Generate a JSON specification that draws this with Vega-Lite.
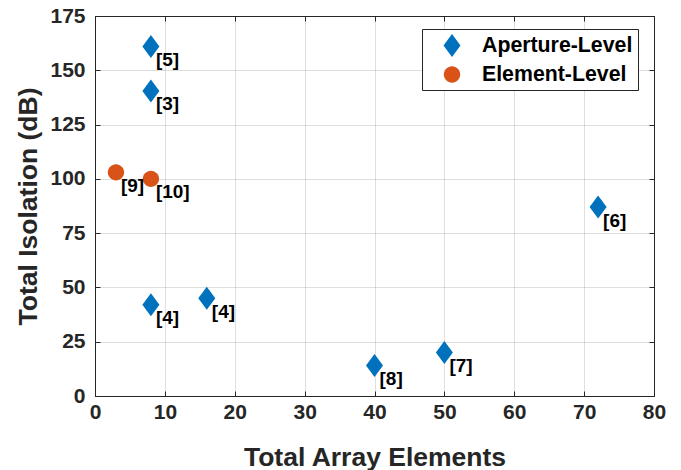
{
  "$schema": "https://vega.github.io/schema/vega-lite/v6.json",
  "width": 559,
  "height": 380,
  "autosize": "none",
  "padding": {"left": 95, "top": 16, "right": 27, "bottom": 74},
  "background": "white",
  "config": {
    "view": {"stroke": "#262626", "strokeWidth": 1},
    "font": "Liberation Sans",
    "axis": {
      "labelFont": "Liberation Sans",
      "labelFontWeight": "bold",
      "labelFontSize": 21,
      "labelColor": "#262626",
      "labelFlush": false,
      "labelOverlap": false,
      "titleFont": "Liberation Sans",
      "titleFontWeight": "bold",
      "titleFontSize": 26.5,
      "titleColor": "#262626",
      "gridColor": "#262626",
      "gridOpacity": 0.15,
      "domainColor": "#262626",
      "tickColor": "#262626",
      "tickSize": -5
    }
  },
  "data": {
    "values": [
      {"elements": 8, "isolation": 161, "type": "Aperture-Level", "ref": "[5]"},
      {"elements": 8, "isolation": 140.5, "type": "Aperture-Level", "ref": "[3]"},
      {"elements": 8, "isolation": 42, "type": "Aperture-Level", "ref": "[4]"},
      {"elements": 16, "isolation": 45, "type": "Aperture-Level", "ref": "[4]"},
      {"elements": 40, "isolation": 14, "type": "Aperture-Level", "ref": "[8]"},
      {"elements": 50, "isolation": 20, "type": "Aperture-Level", "ref": "[7]"},
      {"elements": 72, "isolation": 87, "type": "Aperture-Level", "ref": "[6]"},
      {"elements": 3, "isolation": 103, "type": "Element-Level", "ref": "[9]"},
      {"elements": 8, "isolation": 100, "type": "Element-Level", "ref": "[10]"}
    ]
  },
  "layer": [
    {
      "mark": {"type": "point", "filled": true, "size": 529, "opacity": 1, "strokeWidth": 0},
      "encoding": {
        "x": {
          "field": "elements", "type": "quantitative",
          "scale": {"domain": [0, 80], "nice": false, "zero": false},
          "axis": {"values": [0, 10, 20, 30, 40, 50, 60, 70, 80], "title": "Total Array Elements", "labelPadding": 10, "titleBaseline": "alphabetic", "titleY": 69}
        },
        "y": {
          "field": "isolation", "type": "quantitative",
          "scale": {"domain": [0, 175], "nice": false, "zero": false},
          "axis": {"values": [0, 25, 50, 75, 100, 125, 150, 175], "title": "Total Isolation (dB)", "labelPadding": 15, "titleBaseline": "alphabetic", "titleX": -59}
        },
        "color": {
          "field": "type", "type": "nominal",
          "scale": {"domain": ["Aperture-Level", "Element-Level"], "range": ["#0072BD", "#D95319"]},
          "legend": {
            "orient": "none", "legendX": 327, "legendY": 13, "title": null,
            "strokeColor": "#262626", "fillColor": "white", "padding": 5,
            "labelFont": "Liberation Sans", "labelFontWeight": "bold", "labelFontSize": 21.3, "labelColor": "#000000",
            "symbolOffset": 13.5, "labelOffset": 18.5, "rowPadding": 6, "symbolSize": 529, "symbolStrokeWidth": 0
          }
        },
        "shape": {
          "field": "type", "type": "nominal",
          "scale": {"domain": ["Aperture-Level", "Element-Level"], "range": ["M0,-1L0.74,0L0,1L-0.74,0Z", "M0.71,0A0.71,0.71,0,1,1,-0.71,0A0.71,0.71,0,1,1,0.71,0Z"]},
          "legend": {
            "orient": "none", "legendX": 327, "legendY": 13, "title": null,
            "strokeColor": "#262626", "fillColor": "white", "padding": 5,
            "labelFont": "Liberation Sans", "labelFontWeight": "bold", "labelFontSize": 21.3, "labelColor": "#000000",
            "symbolOffset": 13.5, "labelOffset": 18.5, "rowPadding": 6, "symbolSize": 529, "symbolStrokeWidth": 0
          }
        }
      }
    },
    {
      "mark": {"type": "point", "opacity": 0},
      "encoding": {
        "x": {
          "field": "elements", "type": "quantitative",
          "scale": {"domain": [0, 80], "nice": false, "zero": false},
          "axis": {"orient": "top", "values": [0, 10, 20, 30, 40, 50, 60, 70, 80], "labels": false, "title": null, "grid": false}
        },
        "y": {
          "field": "isolation", "type": "quantitative",
          "scale": {"domain": [0, 175], "nice": false, "zero": false},
          "axis": {"orient": "right", "values": [0, 25, 50, 75, 100, 125, 150, 175], "labels": false, "title": null, "grid": false}
        }
      }
    },
    {
      "mark": {"type": "text", "align": "left", "baseline": "middle", "dx": 5, "dy": 13.5, "font": "Liberation Sans", "fontSize": 19, "fontWeight": "bold", "color": "#000000"},
      "encoding": {
        "x": {"field": "elements", "type": "quantitative", "axis": null},
        "y": {"field": "isolation", "type": "quantitative", "axis": null},
        "text": {"field": "ref", "type": "nominal"}
      }
    }
  ],
  "resolve": {"axis": {"x": "independent", "y": "independent"}}
}
